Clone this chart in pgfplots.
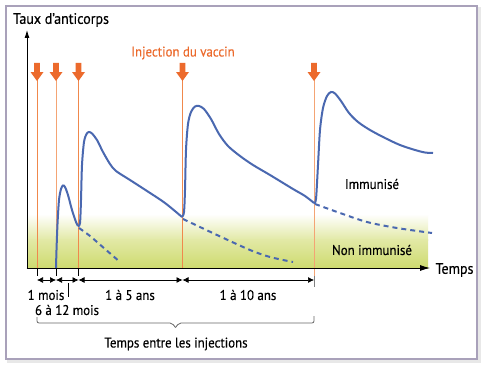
\documentclass[border=0pt]{standalone}
\usepackage{fontspec}
\setmainfont{PT Sans}[FakeBold=0.35, FakeStretch=0.92]
\usepackage{pgfplots}
\pgfplotsset{compat=1.18}
\usetikzlibrary{arrows.meta}
\definecolor{blueC}{HTML}{4A68B0}
\definecolor{orgA}{HTML}{EC6A2C}
\definecolor{orgL}{HTML}{F0884C}
\definecolor{orgLL}{HTML}{F4A474}
\definecolor{bandM}{HTML}{E2E9A6}
\definecolor{bandB}{HTML}{CEDB6F}
\definecolor{frameC}{HTML}{A9A1BA}
\newcommand\f{\fontsize{14}{16}\selectfont}
\newcommand\fb{\fontsize{15.2}{17}\selectfont}
\begin{document}
\begin{tikzpicture}
\begin{axis}[scale only axis, width=487pt, height=369pt,
  xmin=0, xmax=487, ymin=0, ymax=369, y dir=reverse,
  hide axis, clip=false]
% full-size background (fixes bounding box)
\fill[white] (axis cs:0,0) rectangle (axis cs:487,369);
% frame with shadow
\draw[color=gray!18, line width=2.5pt] (axis cs:8.5,8.5) rectangle (axis cs:479.5,361.5);
\draw[color=frameC, line width=1.1pt, fill=white] (axis cs:6,6) rectangle (axis cs:477,359);
% band
\addplot[draw=none, top color=white, bottom color=bandM] coordinates {(27,214) (428,214) (428,240) (27,240)} -- cycle;
\addplot[draw=none, top color=bandM, bottom color=bandB] coordinates {(27,239.5) (428,239.5) (428,268) (27,268)} -- cycle;
% injection lines
\addplot[orgL, line width=0.9pt] coordinates {(37,78) (37,268)};
\addplot[orgLL, line width=0.9pt] coordinates {(56,78) (56,268)};
\addplot[orgL, line width=0.9pt] coordinates {(78.5,78) (78.5,268)};
\addplot[orgL, line width=0.9pt] coordinates {(182.5,78) (182.5,268)};
\addplot[orgLL, line width=0.9pt] coordinates {(314,78) (314,276)};
% orange arrows
\pgfplotsinvokeforeach{37,56,78.5,182.5,314}{
  \fill[orgA] ([xshift=-2.8pt]axis cs:#1,63) -- ([xshift=2.8pt]axis cs:#1,63) -- ([xshift=2.8pt]axis cs:#1,72) -- ([xshift=6.5pt]axis cs:#1,72) -- (axis cs:#1,81) -- ([xshift=-6.5pt]axis cs:#1,72) -- ([xshift=-2.8pt]axis cs:#1,72) -- cycle;
}
% dashed continuations
\addplot[blueC, line width=2pt, dash pattern=on 5pt off 4pt, smooth] coordinates {(79,228) (90,236) (105,249) (120,262)};
\addplot[blueC, line width=2pt, dash pattern=on 5pt off 4pt, smooth] coordinates {(183,219) (217,235) (250,250) (270,257) (293,262)};
\addplot[blueC, line width=2pt, dash pattern=on 5pt off 4pt, smooth] coordinates {(315,204) (340,213) (367,222) (397,228) (432,233)};
% curves
\addplot[blueC, line width=2pt, smooth, tension=0.5] coordinates {(56,268) (56.5,250) (57.5,224) (59,200) (61,189) (63,185.5) (65,187) (68,195) (72,210) (76,222) (78,226)};
\addplot[blueC, line width=2pt, smooth, tension=0.5] coordinates {(78,226) (80,223) (81,200) (82,165) (84,142) (86.5,134) (89,132) (92,133.5) (97,140) (103,152) (110,164) (116,171) (130,180) (147,191) (165,203) (182,217)};
\addplot[blueC, line width=2pt, smooth, tension=0.5] coordinates {(182,217) (184,212) (185,190) (186,150) (188,124) (191,112) (195,106.5) (199,106) (204,109) (211,119) (219,134) (228,146) (240,156) (253,165) (270,175) (293,189) (305,196) (314,203)};
\addplot[blueC, line width=2pt, smooth, tension=0.5] coordinates {(314,203) (316,199) (318,165) (320,130) (323,108) (327,96) (331,92) (335,93.5) (341,101) (349,113) (358,122) (370,130) (385,138) (400,145) (415,150) (425,152.5) (433,153)};
% axes
\draw[black, line width=0.9pt, -{Latex[length=8pt,width=5pt]}] (axis cs:27,268.4) -- (axis cs:27,30);
\draw[black, line width=0.9pt, -{Latex[length=10pt,width=6pt]}] (axis cs:26.6,268) -- (axis cs:430,268);
% ticks under axis
\draw[black, line width=0.7pt] (axis cs:37,268) -- (axis cs:37,276);
\draw[black, line width=0.7pt] (axis cs:56,268) -- (axis cs:56,276);
\draw[black, line width=0.7pt] (axis cs:78.5,268) -- (axis cs:78.5,276);
\draw[gray, line width=0.7pt] (axis cs:314,276) -- (axis cs:314,287);
% dimension arrows
\draw[black, line width=0.7pt, {Latex[length=6pt,width=6pt]}-{Latex[length=6pt,width=6pt]}] (axis cs:37,280) -- (axis cs:56,280);
\draw[black, line width=0.7pt, {Latex[length=6pt,width=6pt]}-{Latex[length=6pt,width=6pt]}] (axis cs:56,280) -- (axis cs:78.5,280);
\draw[black, line width=0.7pt, {Latex[length=6pt,width=6pt]}-{Latex[length=6pt,width=6pt]}] (axis cs:78.5,280) -- (axis cs:182.5,280);
\draw[black, line width=0.7pt, {Latex[length=6pt,width=6pt]}-{Latex[length=6pt,width=6pt]}] (axis cs:182.5,280) -- (axis cs:314,280);
\draw[black, line width=0.7pt] (axis cs:68,283) -- (axis cs:68,297);
% brace
\draw[gray!80!black, line width=0.8pt, rounded corners=2pt] (axis cs:37,317) -- (axis cs:37,323) -- (axis cs:172,323) -- (axis cs:175.5,327.5);
\draw[gray!80!black, line width=0.8pt, rounded corners=2pt] (axis cs:175.5,327.5) -- (axis cs:179,323) -- (axis cs:314,323) -- (axis cs:314,316);
% texts
\node[font=\fb] at (axis cs:61,20) {Taux d’anticorps};
\node[font=\f, text=orgA] at (axis cs:183,53) {Injection du vaccin};
\node[font=\fb, anchor=west] at (axis cs:432,270) {Temps};
\node[font=\f] at (axis cs:372,184) {Immunisé};
\node[font=\f] at (axis cs:372,250) {Non immunisé};
\node[font=\f] at (axis cs:46,295) {1 mois};
\node[font=\f] at (axis cs:130,295) {1 à 5 ans};
\node[font=\f] at (axis cs:248,295) {1 à 10 ans};
\node[font=\f] at (axis cs:67,310) {6 à 12 mois};
\node[font=\f] at (axis cs:176,344) {Temps entre les injections};
\end{axis}
\end{tikzpicture}
\end{document}
